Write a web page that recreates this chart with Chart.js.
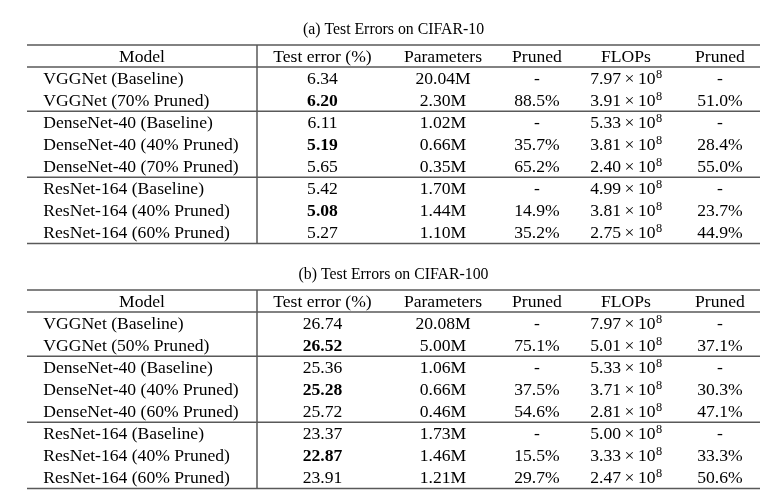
<!DOCTYPE html>
<html>
<head>
<meta charset="utf-8">
<script src="https://cdn.jsdelivr.net/npm/chart.js@4.4.1/dist/chart.umd.min.js"></script>
<style>
  html, body { margin: 0; padding: 0; background: #fff; }
  .tbl { width: 775px; height: 245px; }
  canvas { display: block; }
</style>
</head>
<body>
<div class="tbl"><canvas id="c10" width="775" height="245"></canvas></div>
<div class="tbl"><canvas id="c100" width="775" height="245"></canvas></div>
<script>
(function () {
  'use strict';

  const HEADERS = ['Model', 'Test error (%)', 'Parameters', 'Pruned', 'FLOPs', 'Pruned'];

  // (a) CIFAR-10
  const MODELS_C10 = [
    'VGGNet (Baseline)', 'VGGNet (70% Pruned)',
    'DenseNet-40 (Baseline)', 'DenseNet-40 (40% Pruned)', 'DenseNet-40 (70% Pruned)',
    'ResNet-164 (Baseline)', 'ResNet-164 (40% Pruned)', 'ResNet-164 (60% Pruned)',
  ];
  const ERR_C10 = [6.34, 6.20, 6.11, 5.19, 5.65, 5.42, 5.08, 5.27];
  const PARAMS_C10 = [20.04, 2.30, 1.02, 0.66, 0.35, 1.70, 1.44, 1.10];        // M
  const PARAMS_PRUNED_C10 = [null, 88.5, null, 35.7, 65.2, null, 14.9, 35.2];   // %
  const FLOPS_C10 = [7.97, 3.91, 5.33, 3.81, 2.40, 4.99, 3.81, 2.75];           // x10^8
  const FLOPS_PRUNED_C10 = [null, 51.0, null, 28.4, 55.0, null, 23.7, 44.9];    // %

  // (b) CIFAR-100
  const MODELS_C100 = [
    'VGGNet (Baseline)', 'VGGNet (50% Pruned)',
    'DenseNet-40 (Baseline)', 'DenseNet-40 (40% Pruned)', 'DenseNet-40 (60% Pruned)',
    'ResNet-164 (Baseline)', 'ResNet-164 (40% Pruned)', 'ResNet-164 (60% Pruned)',
  ];
  const ERR_C100 = [26.74, 26.52, 25.36, 25.28, 25.72, 23.37, 22.87, 23.91];
  const PARAMS_C100 = [20.08, 5.00, 1.06, 0.66, 0.46, 1.73, 1.46, 1.21];
  const PARAMS_PRUNED_C100 = [null, 75.1, null, 37.5, 54.6, null, 15.5, 29.7];
  const FLOPS_C100 = [7.97, 5.01, 5.33, 3.71, 2.81, 5.00, 3.33, 2.47];
  const FLOPS_PRUNED_C100 = [null, 37.1, null, 30.3, 47.1, null, 33.3, 50.6];

  const FLOPS_EXP = '8';
  const BOLD_ROWS = [1, 3, 6];      // best test error per group
  const GROUP_BREAKS = [2, 5];      // rule after these many rows

  // layout (x in table units, 1 unit = 1px of table width)
  const TABLE_W = 733;
  const COL_X = [115, 295.5, 416, 510, 599, 693];
  const MODEL_TEXT_X = 16.3;
  const MODEL_RULE_X = 230;

  const FONT = '"Liberation Serif", "Times New Roman", serif';
  const SIZE = 17.6;
  const INK = '#000';
  const RULE = '#595959';

  function drawCell(ctx, cell, px, py, align, bold) {
    const font = (bold ? 'bold ' : '') + SIZE + 'px ' + FONT;
    const base = py + SIZE * 0.34;
    ctx.save();
    ctx.fillStyle = INK;
    ctx.textBaseline = 'alphabetic';
    ctx.font = font;
    if (typeof cell === 'string') {
      ctx.textAlign = align;
      ctx.fillText(cell, px, base);
    } else {
      // mantissa x 10^exp
      const gap = SIZE * 0.2;
      const supFont = (SIZE * 0.7) + 'px ' + FONT;
      const wM = ctx.measureText(cell.mant).width;
      const wT = ctx.measureText('\u00d7').width;
      const wB = ctx.measureText('10').width;
      ctx.font = supFont;
      const wE = ctx.measureText(cell.exp).width;
      let cx = px - (wM + gap + wT + gap + wB + wE) / 2;
      ctx.textAlign = 'left';
      ctx.font = font;
      ctx.fillText(cell.mant, cx, base); cx += wM + gap;
      ctx.fillText('\u00d7', cx, base); cx += wT + gap;
      ctx.fillText('10', cx, base); cx += wB;
      ctx.font = supFont;
      ctx.fillText(cell.exp, cx + 0.5, base - 6.5);
    }
    ctx.restore();
  }

  const tablePlugin = {
    id: 'table',
    beforeDatasetsDraw(chart, args, opts) {
      const { ctx, scales: { x, y } } = chart;
      const n = opts.rows;
      ctx.save();
      ctx.strokeStyle = RULE;
      ctx.lineWidth = 1.5;
      const rules = [-0.5, 0.5].concat(GROUP_BREAKS.map(b => b + 0.5), [n + 0.5]);
      rules.forEach(v => {
        const py = y.getPixelForValue(v);
        ctx.beginPath();
        ctx.moveTo(x.getPixelForValue(0), py);
        ctx.lineTo(x.getPixelForValue(TABLE_W), py);
        ctx.stroke();
      });
      const vx = x.getPixelForValue(MODEL_RULE_X);
      ctx.beginPath();
      ctx.moveTo(vx, y.getPixelForValue(-0.5));
      ctx.lineTo(vx, y.getPixelForValue(n + 0.5));
      ctx.stroke();
      ctx.restore();
    },
    afterDatasetsDraw(chart) {
      const ctx = chart.ctx;
      chart.data.datasets.forEach((ds, i) => {
        chart.getDatasetMeta(i).data.forEach((pt, j) => {
          drawCell(ctx, ds.cellText[j], pt.x, pt.y, ds.cellAlign, ds.cellBold && ds.cellBold[j]);
        });
      });
    },
  };

  const pct = v => (v == null ? '-' : v.toFixed(1) + '%');

  function column(xVal, cells, align, bold) {
    return {
      data: cells.map((_, i) => ({ x: xVal, y: i + 1 })),
      cellText: cells,
      cellAlign: align,
      cellBold: bold,
      pointRadius: 0,
      pointHoverRadius: 0,
    };
  }

  function makeTable(id, title, models, err, params, paramsPruned, flops, flopsPruned) {
    const rows = models.length;
    const datasets = [
      {
        data: HEADERS.map((_, i) => ({ x: COL_X[i], y: 0 })),
        cellText: HEADERS,
        cellAlign: 'center',
        pointRadius: 0,
        pointHoverRadius: 0,
      },
      column(MODEL_TEXT_X, models, 'left'),
      column(COL_X[1], err.map(v => v.toFixed(2)), 'center', err.map((_, i) => BOLD_ROWS.includes(i))),
      column(COL_X[2], params.map(v => v.toFixed(2) + 'M'), 'center'),
      column(COL_X[3], paramsPruned.map(pct), 'center'),
      column(COL_X[4], flops.map(v => ({ mant: v.toFixed(2), exp: FLOPS_EXP })), 'center'),
      column(COL_X[5], flopsPruned.map(pct), 'center'),
    ];

    new Chart(document.getElementById(id), {
      type: 'scatter',
      data: { datasets },
      options: {
        responsive: false,
        animation: false,
        events: [],
        devicePixelRatio: 1,
        layout: { padding: { left: 27, right: 15, top: 0, bottom: 1.5 } },
        scales: {
          x: { type: 'linear', min: 0, max: TABLE_W, display: false },
          y: { type: 'linear', min: -0.5, max: rows + 0.5, reverse: true, display: false },
        },
        plugins: {
          legend: { display: false },
          tooltip: { enabled: false },
          title: {
            display: true,
            text: title,
            color: INK,
            font: { family: FONT, size: 15.8, weight: 'normal' },
            padding: { top: 20, bottom: 6 },
          },
          table: { rows },
        },
      },
      plugins: [tablePlugin],
    });
  }

  makeTable('c10', '(a) Test Errors on CIFAR-10',
    MODELS_C10, ERR_C10, PARAMS_C10, PARAMS_PRUNED_C10, FLOPS_C10, FLOPS_PRUNED_C10);
  makeTable('c100', '(b) Test Errors on CIFAR-100',
    MODELS_C100, ERR_C100, PARAMS_C100, PARAMS_PRUNED_C100, FLOPS_C100, FLOPS_PRUNED_C100);
}());
</script>
</body>
</html>
